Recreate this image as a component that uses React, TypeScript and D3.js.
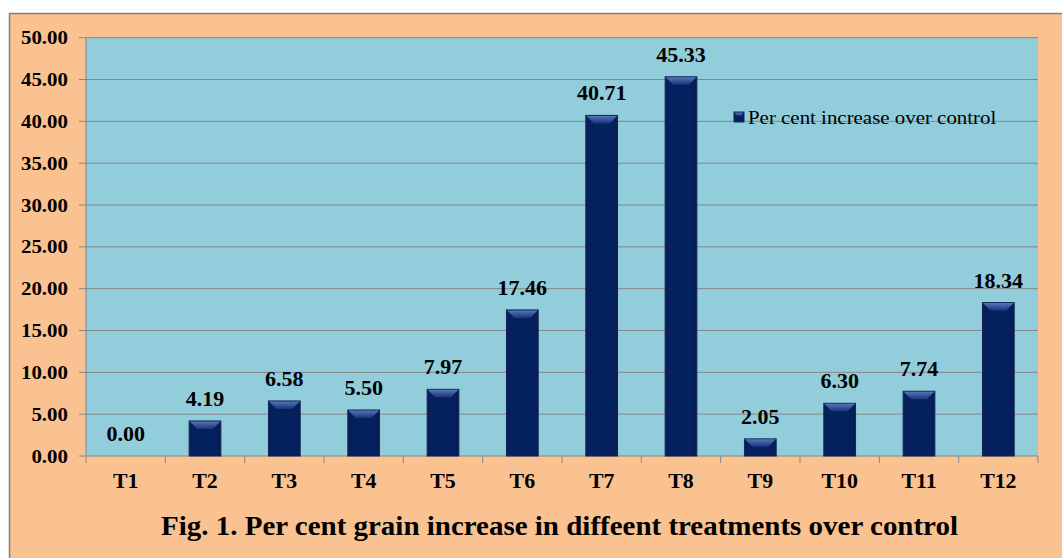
import React, { useEffect, useRef } from "react";
import * as d3 from "d3";

const treatments = ["T1", "T2", "T3", "T4", "T5", "T6", "T7", "T8", "T9", "T10", "T11", "T12"];
const increase = [0.0, 4.19, 6.58, 5.5, 7.97, 17.46, 40.71, 45.33, 2.05, 6.3, 7.74, 18.34];
const yTicks = [0, 5, 10, 15, 20, 25, 30, 35, 40, 45, 50];
const seriesName = "Per cent increase over control";
const caption = "Fig. 1. Per cent grain increase in diffeent treatments over control";

function MakeChart(ref: React.MutableRefObject<SVGSVGElement | null>) {
  const W = 1062;
  const H = 558;
  const plot = { left: 86, right: 1038, top: 37.7, bottom: 456 };
  const font = "'Liberation Serif', 'Times New Roman', serif";
  const sx = 1.1; // the original text is slightly wide

  const svg = d3.select(ref.current);
  svg.selectAll("*").remove();
  svg.attr("width", W).attr("height", H);

  const defs = svg.append("defs");
  const side = defs.append("linearGradient").attr("id", "barSide").attr("x1", 0).attr("x2", 1).attr("y1", 0).attr("y2", 0);
  side.append("stop").attr("offset", "0%").attr("stop-color", "#0b1d4f");
  side.append("stop").attr("offset", "12%").attr("stop-color", "#04205f");
  side.append("stop").attr("offset", "88%").attr("stop-color", "#04205f");
  side.append("stop").attr("offset", "100%").attr("stop-color", "#0a1a44");
  const top = defs.append("linearGradient").attr("id", "barTop").attr("x1", 0).attr("x2", 0).attr("y1", 0).attr("y2", 1);
  top.append("stop").attr("offset", "0%").attr("stop-color", "#5574bb");
  top.append("stop").attr("offset", "100%").attr("stop-color", "#1a3577");

  // white page + peach chart frame
  svg.append("rect").attr("width", W).attr("height", H).attr("fill", "#ffffff");
  svg
    .append("rect")
    .attr("x", 9.5)
    .attr("y", 13.5)
    .attr("width", W + 10)
    .attr("height", H + 10)
    .attr("fill", "#f9c290")
    .attr("stroke", "#7f7f7f")
    .attr("stroke-width", 1.5);

  const x = d3.scaleBand().domain(treatments).range([plot.left, plot.right]).paddingInner(0.6).paddingOuter(0.3);
  const xb = d3.scaleBand().domain(treatments).range([plot.left, plot.right]);
  const y = d3.scaleLinear().domain([0, 50]).range([plot.bottom, plot.top]);

  // plot area
  svg
    .append("rect")
    .attr("x", plot.left)
    .attr("y", plot.top)
    .attr("width", plot.right - plot.left)
    .attr("height", plot.bottom - plot.top)
    .attr("fill", "#92cddc");

  // gridlines
  svg
    .append("g")
    .selectAll("line")
    .data(yTicks.filter((d) => d > 0))
    .enter()
    .append("line")
    .attr("x1", plot.left - 7)
    .attr("x2", plot.right)
    .attr("y1", (d) => y(d))
    .attr("y2", (d) => y(d))
    .attr("stroke", "#868686")
    .attr("stroke-width", 1);

  // axes lines
  svg.append("line").attr("x1", plot.left).attr("x2", plot.left).attr("y1", plot.top).attr("y2", plot.bottom).attr("stroke", "#868686");
  svg.append("line").attr("x1", plot.left - 7).attr("x2", plot.right).attr("y1", plot.bottom).attr("y2", plot.bottom).attr("stroke", "#868686");

  // x tick marks at category boundaries
  const bounds = treatments.map((t) => xb(t) as number).concat([plot.right]);
  svg
    .append("g")
    .selectAll("line")
    .data(bounds)
    .enter()
    .append("line")
    .attr("x1", (d) => d)
    .attr("x2", (d) => d)
    .attr("y1", plot.bottom)
    .attr("y2", plot.bottom + 7)
    .attr("stroke", "#868686");

  // y labels
  svg
    .append("g")
    .selectAll("text")
    .data(yTicks)
    .enter()
    .append("text")
    .attr("transform", (d) => `translate(68,${y(d) + 6.5}) scale(${sx},1)`)
    .attr("text-anchor", "end")
    .style("font-family", font)
    .style("font-weight", "bold")
    .style("font-size", "19px")
    .text((d) => d.toFixed(2));

  // x labels
  svg
    .append("g")
    .selectAll("text")
    .data(treatments)
    .enter()
    .append("text")
    .attr("transform", (d) => `translate(${(xb(d) as number) + xb.bandwidth() / 2},488) scale(1.04,1)`)
    .attr("text-anchor", "middle")
    .style("font-family", font)
    .style("font-weight", "bold")
    .style("font-size", "21px")
    .text((d) => d);

  // bars
  const bw = x.bandwidth();
  const bev = 8;
  const bars = svg
    .append("g")
    .selectAll("g")
    .data(treatments.map((t, i) => ({ t, v: increase[i] })))
    .enter()
    .append("g");

  bars
    .filter((d) => d.v > 0)
    .append("rect")
    .attr("x", (d) => x(d.t) as number)
    .attr("y", (d) => y(d.v))
    .attr("width", bw)
    .attr("height", (d) => plot.bottom - y(d.v))
    .attr("fill", "url(#barSide)")
    .attr("stroke", "#14285a")
    .attr("stroke-width", 1);

  bars
    .filter((d) => d.v > 0)
    .append("path")
    .attr("d", (d) => {
      const x0 = x(d.t) as number;
      const y0 = y(d.v);
      const b = Math.min(bev, (plot.bottom - y0) / 2);
      return `M${x0 + 0.5},${y0 + 0.5} L${x0 + bw - 0.5},${y0 + 0.5} L${x0 + bw - b},${y0 + b} L${x0 + b},${y0 + b} Z`;
    })
    .attr("fill", "url(#barTop)");

  bars
    .append("text")
    .attr("transform", (d) => `translate(${(x(d.t) as number) + bw / 2},${y(d.v) - 15}) scale(${sx},1)`)
    .attr("text-anchor", "middle")
    .style("font-family", font)
    .style("font-weight", "bold")
    .style("font-size", "20px")
    .text((d) => d.v.toFixed(2));

  // legend
  const lg = svg.append("g").attr("transform", "translate(734,112)");
  lg.append("rect").attr("width", 10).attr("height", 10).attr("fill", "url(#barSide)").attr("stroke", "#14285a");
  lg.append("path").attr("d", "M0.5,0.5 L9.5,0.5 L7,4 L3,4 Z").attr("fill", "url(#barTop)");
  lg.append("text")
    .attr("transform", `translate(14,12) scale(${sx},1)`)
    .style("font-family", font)
    .style("font-size", "19px")
    .text(seriesName);

  // caption
  svg
    .append("text")
    .attr("x", 161)
    .attr("y", 535)
    .attr("textLength", 797)
    .attr("lengthAdjust", "spacingAndGlyphs")
    .style("font-family", font)
    .style("font-weight", "bold")
    .style("font-size", "27px")
    .text(caption);
}

const App = () => {
  const ref = useRef<SVGSVGElement | null>(null);
  useEffect(() => {
    MakeChart(ref);
  }, []);
  return <svg ref={ref} style={{ position: "absolute", left: 0, top: 0, display: "block" }} />;
};

export default App;
